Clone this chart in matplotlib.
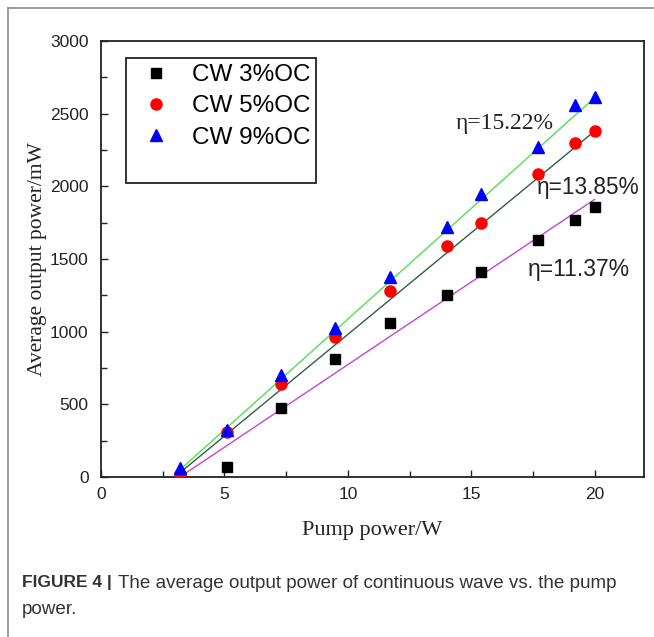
import matplotlib
matplotlib.use("Agg")
import matplotlib.pyplot as plt
from matplotlib.patches import Rectangle
from matplotlib.lines import Line2D

# ---- data ----
pump_power = [3.2, 5.1, 7.3, 9.5, 11.7, 14.0, 15.4, 17.7, 19.2, 20.0]
cw_3oc = [0, 69, 478, 810, 1060, 1255, 1410, 1630, 1768, 1855]
cw_5oc = [20, 310, 640, 963, 1280, 1590, 1748, 2085, 2298, 2378]
cw_9oc = [60, 323, 700, 1025, 1376, 1720, 1945, 2271, 2560, 2615]

fit_x = [3.2, 20.0]
fit_3oc = [0, 1910]
fit_5oc = [30, 2380]
fit_9oc = [50, 2610]

labels = ["CW 3%OC", "CW 5%OC", "CW 9%OC"]
eta_labels = ["\u03b7=15.22%", "\u03b7=13.85%", "\u03b7=11.37%"]
eta_pos_x = [14.35, 17.65, 17.3]
eta_pos_y = [2430, 1990, 1430]

x_ticks = [0, 5, 10, 15, 20]
y_ticks = [0, 500, 1000, 1500, 2000, 2500, 3000]

W, H = 654, 637
fig = plt.figure(figsize=(W / 100, H / 100), dpi=100)
fig.patch.set_facecolor("white")

# outer frame (left and top borders)
fig.add_artist(Line2D([8 / W, 8 / W], [0, 1 - 8 / H], color="#8a8a8a", lw=1.2))
fig.add_artist(Line2D([8 / W, 1], [1 - 8 / H, 1 - 8 / H], color="#8a8a8a", lw=1.2))

ax = fig.add_axes([101 / W, 1 - 477 / H, (644 - 101) / W, (477 - 41) / H])

ax.plot(fit_x, fit_9oc, color="#55dd55", lw=1.0, zorder=2)
ax.plot(fit_x, fit_5oc, color="#2f5f3f", lw=1.0, zorder=2)
ax.plot(fit_x, fit_3oc, color="#cc44cc", lw=1.0, zorder=2)

h3, = ax.plot(pump_power, cw_3oc, ls="none", marker="s", ms=7.5, color="black", label=labels[0], zorder=3)
h5, = ax.plot(pump_power, cw_5oc, ls="none", marker="o", ms=8, color="red", label=labels[1], zorder=3)
h9, = ax.plot(pump_power, cw_9oc, ls="none", marker="^", ms=9, color="blue", label=labels[2], zorder=4)

ax.set_xlim(0, 22)
ax.set_ylim(0, 3000)
ax.set_xticks(x_ticks)
ax.set_xticks([2.5, 7.5, 12.5, 17.5], minor=True)
ax.set_yticks(y_ticks)
ax.set_yticks([250, 750, 1250, 1750, 2250, 2750], minor=True)
ax.tick_params(which="both", direction="in", width=1.0, color="#222222")
ax.tick_params(which="major", length=5)
ax.tick_params(which="minor", length=4)
ax.tick_params(axis="y", which="major", labelsize=12.5, colors="#222222", pad=9)
ax.tick_params(axis="x", which="major", labelsize=12.5, colors="#222222", pad=7)
for lab in ax.get_xticklabels() + ax.get_yticklabels():
    lab.set_family("Liberation Sans")
for s in ax.spines.values():
    s.set_linewidth(1.3)
    s.set_color("#222222")

ax.set_xlabel("Pump power/W", family="Liberation Serif", fontsize=16, labelpad=14, color="#222222")
ax.set_ylabel("Average output power/mW", family="Liberation Serif", fontsize=15.5, labelpad=2, color="#222222")

# annotations
ax.text(eta_pos_x[0], eta_pos_y[0], eta_labels[0], family="Liberation Serif", fontsize=17, va="center", ha="left", color="#222222")
ax.text(eta_pos_x[1], eta_pos_y[1], eta_labels[1], family="Liberation Sans", fontsize=16.3, va="center", ha="left", color="#222222")
ax.text(eta_pos_x[2], eta_pos_y[2], eta_labels[2], family="Liberation Sans", fontsize=16.5, va="center", ha="left", color="#222222")

# legend
leg = ax.legend(handles=[h3, h5, h9], loc="upper left",
                bbox_to_anchor=(126 / W, 1 - 58 / H), bbox_transform=fig.transFigure,
                frameon=False, prop={"family": "Liberation Sans", "size": 17.5},
                handlelength=2.0, handletextpad=0.45, labelspacing=0.38, borderpad=0.25,
                borderaxespad=0)
fig.add_artist(Rectangle((126 / W, 1 - 183 / H), (316 - 126) / W, (183 - 58) / H,
                         transform=fig.transFigure, fill=False, edgecolor="#222222", lw=1.3))

# caption
fig.text(22 / W, 1 - 583 / H, "FIGURE 4 |", family="Liberation Sans", fontweight="bold",
         fontsize=12.5, va="center", ha="left", color="#333333")
fig.text(118 / W, 1 - 583 / H, "The average output power of continuous wave vs. the pump",
         family="Liberation Sans", fontsize=13.6, va="center", ha="left", color="#333333")
fig.text(22 / W, 1 - 609 / H, "power.", family="Liberation Sans", fontsize=13.6,
         va="center", ha="left", color="#333333")

fig.savefig("out.png", dpi=100)
